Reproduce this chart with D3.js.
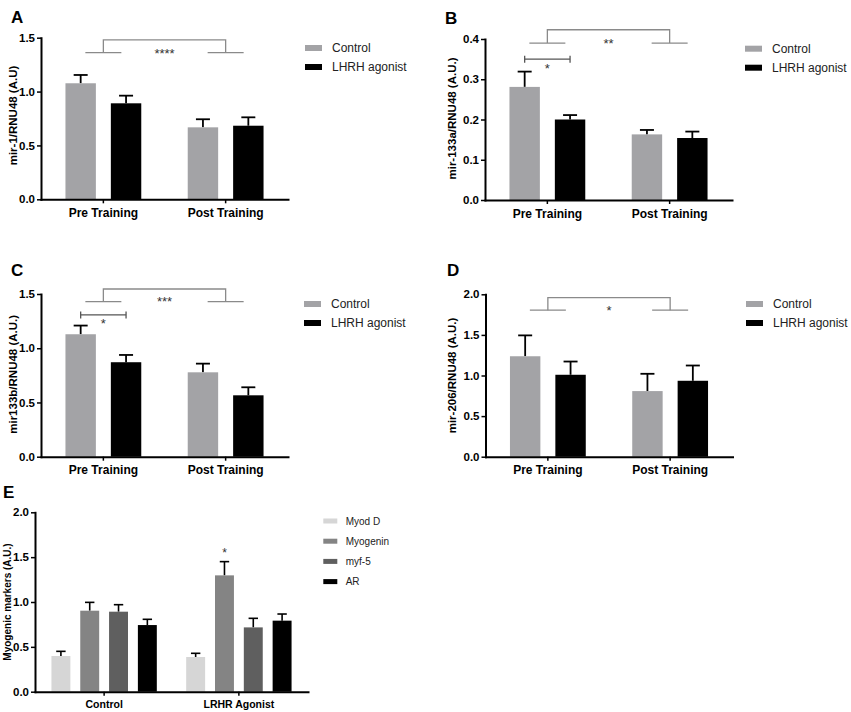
<!DOCTYPE html>
<html>
<head>
<meta charset="utf-8">
<script src="https://cdn.jsdelivr.net/npm/d3@7"></script>
<style>
  body { margin: 0; background: #fff; }
  svg { display: block; font-family: "Liberation Sans", Arial, Helvetica, sans-serif; }
  .axis path, .axis line { stroke: #000; }
  .axis path { stroke-width: 2; stroke-linecap: square; }
  .axis line { stroke-width: 1.5; }
  .axis text { fill: #000; font-weight: bold; }
</style>
</head>
<body>
<svg id="chart" width="851" height="712"></svg>
<script>
// ---- data ----
const trainingGroups = ["Pre Training", "Post Training"];
const treatmentSeries = ["Control", "LHRH agonist"];

// panel A: mir-1
const mir1Control = [1.077, 0.668];
const mir1ControlSem = [0.077, 0.075];
const mir1Agonist = [0.891, 0.683];
const mir1AgonistSem = [0.071, 0.078];

// panel B: mir-133a
const mir133aControl = [0.281, 0.163];
const mir133aControlSem = [0.038, 0.011];
const mir133aAgonist = [0.200, 0.154];
const mir133aAgonistSem = [0.011, 0.016];

// panel C: mir133b
const mir133bControl = [1.129, 0.778];
const mir133bControlSem = [0.080, 0.080];
const mir133bAgonist = [0.871, 0.566];
const mir133bAgonistSem = [0.067, 0.074];

// panel D: mir-206
const mir206Control = [1.237, 0.808];
const mir206ControlSem = [0.257, 0.213];
const mir206Agonist = [1.009, 0.935];
const mir206AgonistSem = [0.163, 0.188];

// panel E: myogenic markers
const markerGroups = ["Control", "LRHR Agonist"];
const markerSeries = ["Myod D", "Myogenin", "myf-5", "AR"];
const myodD = [0.398, 0.387];
const myodDSem = [0.052, 0.041];
const myogenin = [0.903, 1.297];
const myogeninSem = [0.093, 0.153];
const myf5 = [0.892, 0.717];
const myf5Sem = [0.078, 0.101];
const arMarker = [0.743, 0.792];
const arMarkerSem = [0.064, 0.074];

// tick labels
const ticks15 = [0, 0.5, 1.0, 1.5];
const ticks04 = [0, 0.1, 0.2, 0.3, 0.4];
const ticks20 = [0, 0.5, 1.0, 1.5, 2.0];

// significance annotations (data units)
const mainEffectA = {top: 1.479, low: 1.361, label: "****", labelAt: 1.380};
const mainEffectB = {top: 0.423, low: 0.390, label: "**", labelAt: 0.396};
const mainEffectC = {top: 1.546, low: 1.430, label: "***", labelAt: 1.452};
const mainEffectD = {top: 1.959, low: 1.805, label: "*", labelAt: 1.829};
const pairB = {at: 0.350, label: "*", labelAt: 0.334};
const pairC = {at: 1.307, label: "*", labelAt: 1.255};
const starE = {group: "LRHR Agonist", series: "Myogenin", labelAt: 1.572};

const colorsAD = ["#a3a3a6", "#000000"];
const colorsE = ["#d6d6d6", "#848484", "#5f5f5f", "#000000"];

const svg = d3.select("#chart");
svg.append("rect").attr("width", 851).attr("height", 712).attr("fill", "#fff");

function buildRows(groups, series, values, sems) {
  // one object per bar
  let rows = [];
  groups.forEach((g, gi) => {
    series.forEach((s, si) => {
      rows.push({group: g, series: s, value: values[si][gi], sem: sems[si][gi]});
    });
  });
  return rows;
}

function drawPanel(cfg) {
  const g = svg.append("g").attr("transform", `translate(${cfg.left},${cfg.top})`);

  const x0 = d3.scaleBand()
      .domain(cfg.groups)
      .range([0, cfg.width])
      .paddingInner(cfg.groupPadInner)
      .paddingOuter(cfg.groupPadOuter);
  const x1 = d3.scaleBand()
      .domain(cfg.series)
      .range([0, x0.bandwidth()])
      .paddingInner(cfg.barPad);
  const y = d3.scaleLinear()
      .domain([0, d3.max(cfg.yTicks)])
      .range([cfg.height, 0]);
  const color = d3.scaleOrdinal().domain(cfg.series).range(cfg.colors);

  const rows = buildRows(cfg.groups, cfg.series, cfg.values, cfg.sems);
  const cx = d => x0(d.group) + x1(d.series) + x1.bandwidth() / 2;

  // error bars (upper only)
  const err = g.append("g").attr("stroke", "#000").attr("stroke-width", cfg.errWidth).attr("fill", "none");
  err.selectAll(".stem").data(rows).join("line")
      .attr("x1", cx).attr("x2", cx)
      .attr("y1", d => y(d.value)).attr("y2", d => y(d.value + d.sem));
  err.selectAll(".cap").data(rows).join("line")
      .attr("x1", d => cx(d) - cfg.capHalf).attr("x2", d => cx(d) + cfg.capHalf)
      .attr("y1", d => y(d.value + d.sem)).attr("y2", d => y(d.value + d.sem));

  // bars
  g.selectAll(".bar").data(rows).join("rect")
      .attr("class", "bar")
      .attr("x", d => x0(d.group) + x1(d.series))
      .attr("width", x1.bandwidth())
      .attr("y", d => y(d.value))
      .attr("height", d => y(0) - y(d.value))
      .attr("fill", d => color(d.series));

  // axes
  g.append("g").attr("class", "axis")
      .call(d3.axisLeft(y).tickValues(cfg.yTicks).tickFormat(d3.format(".1f"))
        .tickSize(4).tickPadding(2).tickSizeOuter(0))
      .selectAll("text").style("font-size", cfg.yTickFont + "px");
  g.append("g").attr("class", "axis")
      .attr("transform", `translate(0,${cfg.height})`)
      .call(d3.axisBottom(x0).tickSize(4).tickPadding(5).tickSizeOuter(0))
      .selectAll("text").style("font-size", cfg.xTickFont + "px");

  // y-axis title
  g.append("text")
      .attr("transform", `translate(${cfg.yTitleX - cfg.left},${cfg.height / 2 + cfg.yTitleShift}) rotate(-90)`)
      .attr("text-anchor", "middle")
      .attr("dominant-baseline", "central")
      .style("font-size", cfg.yTitleFont + "px")
      .style("font-weight", "bold")
      .text(cfg.yTitle);

  // panel letter
  svg.append("text")
      .attr("x", cfg.letterX).attr("y", cfg.letterY)
      .style("font-size", "17px").style("font-weight", "bold")
      .text(cfg.letter);

  // main-effect bracket between training groups
  if (cfg.mainEffect) {
    const m = cfg.mainEffect;
    const c0 = x0(cfg.groups[0]) + x0.bandwidth() / 2;
    const c1 = x0(cfg.groups[1]) + x0.bandwidth() / 2;
    const half = 18;
    const br = g.append("g").attr("stroke", "#8a8a8a").attr("stroke-width", 1.3).attr("fill", "none");
    br.append("path").attr("d", `M${c0},${y(m.low)}V${y(m.top)}H${c1}V${y(m.low)}`);
    [c0, c1].forEach(c => {
      br.append("line").attr("x1", c - half).attr("x2", c + half)
        .attr("y1", y(m.low)).attr("y2", y(m.low));
    });
    g.append("text")
        .attr("x", (c0 + c1) / 2).attr("y", y(m.labelAt) + 7)
        .attr("text-anchor", "middle")
        .style("font-size", "13px").attr("fill", "#333")
        .text(m.label);
  }

  // pairwise bracket within Pre Training
  if (cfg.pair) {
    const p = cfg.pair;
    const a = x0(cfg.groups[0]) + x1(cfg.series[0]) + x1.bandwidth() / 2;
    const b = x0(cfg.groups[0]) + x1(cfg.series[1]) + x1.bandwidth() / 2;
    const pb = g.append("g").attr("stroke", "#555").attr("stroke-width", 1.3).attr("fill", "none");
    pb.append("line").attr("x1", a).attr("x2", b).attr("y1", y(p.at)).attr("y2", y(p.at));
    [a, b].forEach(xx => {
      pb.append("line").attr("x1", xx).attr("x2", xx).attr("y1", y(p.at) - 3.5).attr("y2", y(p.at) + 3.5);
    });
    g.append("text")
        .attr("x", (a + b) / 2).attr("y", y(p.labelAt) + 7)
        .attr("text-anchor", "middle")
        .style("font-size", "13px").attr("fill", "#333")
        .text(p.label);
  }

  if (cfg.star) {
    const s = cfg.star;
    g.append("text")
        .attr("x", x0(s.group) + x1(s.series) + x1.bandwidth() / 2)
        .attr("y", y(s.labelAt) + 6)
        .attr("text-anchor", "middle")
        .style("font-size", "12px").attr("fill", "#333")
        .text(s.label || "*");
  }

  // legend
  const lg = svg.append("g").attr("transform", `translate(${cfg.legendX},${cfg.legendY})`);
  cfg.series.forEach((s, i) => {
    const row = lg.append("g").attr("transform", `translate(0,${i * cfg.legendStep})`);
    row.append("rect")
        .attr("x", 0).attr("y", -cfg.legendRect[1] / 2)
        .attr("width", cfg.legendRect[0]).attr("height", cfg.legendRect[1])
        .attr("fill", color(s));
    row.append("text")
        .attr("x", cfg.legendTextDx).attr("y", 0)
        .attr("dominant-baseline", "central")
        .style("font-size", cfg.legendFont + "px").attr("fill", "#222")
        .text(s);
  });
}

const commonAD = {
  groups: trainingGroups, series: treatmentSeries, colors: colorsAD,
  width: 247, groupPadInner: 0.38, groupPadOuter: 0.2, barPad: 0.33,
  errWidth: 1.8, capHalf: 7, yTickFont: 11.5, xTickFont: 12, yTitleFont: 11.5,
  legendRect: [17, 6], legendTextDx: 27, legendStep: 19, legendFont: 12
};

drawPanel(Object.assign({}, commonAD, {
  letter: "A", letterX: 11, letterY: 23,
  left: 41, top: 37.7, height: 161.6,
  yTicks: ticks15, yTitle: "mir-1/RNU48 (A.U)", yTitleX: 12.5, yTitleShift: -3,
  values: [mir1Control, mir1Agonist], sems: [mir1ControlSem, mir1AgonistSem],
  mainEffect: mainEffectA,
  legendX: 305, legendY: 48
}));

drawPanel(Object.assign({}, commonAD, {
  letter: "B", letterX: 445, letterY: 24,
  left: 485, top: 39, height: 161,
  yTicks: ticks04, yTitle: "mir-133a/RNU48 (A.U.)", yTitleX: 452, yTitleShift: -1,
  values: [mir133aControl, mir133aAgonist], sems: [mir133aControlSem, mir133aAgonistSem],
  mainEffect: mainEffectB, pair: pairB,
  legendX: 745, legendY: 48.7
}));

drawPanel(Object.assign({}, commonAD, {
  letter: "C", letterX: 11, letterY: 276,
  left: 41, top: 294, height: 162.7,
  yTicks: ticks15, yTitle: "mir133b/RNU48 (A.U.)", yTitleX: 12.5, yTitleShift: -1,
  values: [mir133bControl, mir133bAgonist], sems: [mir133bControlSem, mir133bAgonistSem],
  mainEffect: mainEffectC, pair: pairC,
  legendX: 304, legendY: 304
}));

drawPanel(Object.assign({}, commonAD, {
  letter: "D", letterX: 447, letterY: 276,
  left: 485.5, top: 294.3, height: 162.4,
  yTicks: ticks20, yTitle: "mir-206/RNU48 (A.U.)", yTitleX: 452, yTitleShift: 0,
  values: [mir206Control, mir206Agonist], sems: [mir206ControlSem, mir206AgonistSem],
  mainEffect: mainEffectD,
  legendX: 746, legendY: 304
}));

drawPanel({
  letter: "E", letterX: 3, letterY: 498,
  groups: markerGroups, series: markerSeries, colors: colorsE,
  left: 35, top: 512.3, width: 273, height: 179.4,
  groupPadInner: 0.218, groupPadOuter: 0.122, barPad: 0.343,
  errWidth: 1.6, capHalf: 4.7, yTickFont: 11.5, xTickFont: 10.5, yTitleFont: 10,
  yTicks: ticks20, yTitle: "Myogenic markers (A.U.)", yTitleX: 7.5, yTitleShift: 0,
  values: [myodD, myogenin, myf5, arMarker], sems: [myodDSem, myogeninSem, myf5Sem, arMarkerSem],
  star: starE,
  legendX: 323.3, legendY: 521, legendRect: [14, 5], legendTextDx: 22.4, legendStep: 20.2, legendFont: 10
});
</script>
</body>
</html>
